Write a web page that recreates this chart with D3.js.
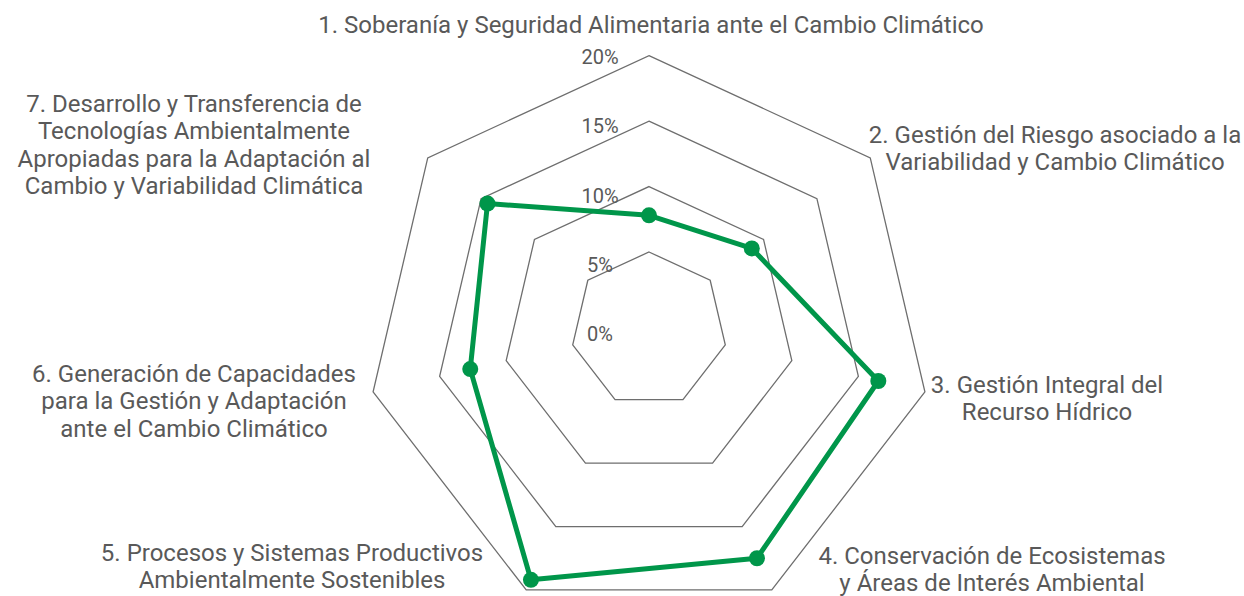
<!DOCTYPE html>
<html>
<head>
<meta charset="utf-8">
<script src="https://cdn.jsdelivr.net/npm/d3@7"></script>
<style>
  html, body { margin: 0; padding: 0; background: #ffffff; }
  svg { display: block; }
  text { font-family: Roboto, "Noto Sans", sans-serif; fill: #595959; }
</style>
</head>
<body>
<svg id="chart" width="1244" height="596"></svg>
<script>
// Axis names (one entry per spoke, split into display lines)
const categories = [
  ["1. Soberanía y Seguridad Alimentaria ante el Cambio Climático"],
  ["2. Gestión del Riesgo asociado a la", "Variabilidad y Cambio Climático"],
  ["3. Gestión Integral del", "Recurso Hídrico"],
  ["4. Conservación de Ecosistemas", "y Áreas de Interés Ambiental"],
  ["5. Procesos y Sistemas Productivos", "Ambientalmente Sostenibles"],
  ["6. Generación de Capacidades", "para la Gestión y Adaptación", "ante el Cambio Climático"],
  ["7. Desarrollo y Transferencia de", "Tecnologías Ambientalmente", "Apropiadas para la Adaptación al", "Cambio y Variabilidad Climática"]
];

// Share of each line of action (%)
const values = [7.8, 8.9, 16.5, 17.5, 19.2, 12.7, 14.4];

// Radial ticks (%)
const gridTicks = [5, 10, 15, 20];
const tickLabels = [0, 5, 10, 15, 20];

// ---- layout ----
const cx = 649;
const n = categories.length;
const angle = i => i * 2 * Math.PI / n;

const r = d3.scaleLinear().domain([0, 20]).range([10, 283]);
// vertical placement of radial offsets (offset -> page y)
const y = d3.scaleLinear().domain([-283, 0, 255]).range([55.7, 327, 590]);
const tickY = d3.scaleLinear().domain([0, 20]).range([334, 57]);

const point = (v, i) => {
  const rr = r(v), a = angle(i);
  return [cx + rr * Math.sin(a), y(-rr * Math.cos(a))];
};

const svg = d3.select("#chart");
const closed = d3.line().curve(d3.curveLinearClosed);

// grid rings
svg.append("g").selectAll("path")
  .data(gridTicks)
  .join("path")
  .attr("d", t => closed(d3.range(n).map(i => point(t, i))))
  .attr("fill", "none")
  .attr("stroke", "#6e6e6e")
  .attr("stroke-width", 1.3);

// tick labels
svg.append("g").selectAll("text")
  .data(tickLabels)
  .join("text")
  .attr("x", 600)
  .attr("y", t => tickY(t))
  .attr("dy", "0.35em")
  .attr("text-anchor", "middle")
  .attr("font-size", 20)
  .text(t => t + "%");

// series
svg.append("path")
  .attr("d", closed(values.map((v, i) => point(v, i))))
  .attr("fill", "none")
  .attr("stroke", "#00964a")
  .attr("stroke-width", 5)
  .attr("stroke-linejoin", "round");

svg.append("g").selectAll("circle")
  .data(values)
  .join("circle")
  .attr("cx", (v, i) => point(v, i)[0])
  .attr("cy", (v, i) => point(v, i)[1])
  .attr("r", 8)
  .attr("fill", "#00964a");

// category labels: anchor x and first baseline of each block
const labelAnchors = [
  [651, 33], [1055, 143], [1047, 393], [992, 564],
  [292, 561], [194, 382], [194, 112]
];
const lineHeight = 27.3;

svg.append("g").selectAll("text")
  .data(categories)
  .join("text")
  .attr("font-size", 24)
  .attr("text-anchor", "middle")
  .each(function (lines, i) {
    const [ax, ay] = labelAnchors[i];
    d3.select(this).selectAll("tspan")
      .data(lines)
      .join("tspan")
      .attr("x", ax)
      .attr("y", (d, k) => ay + k * lineHeight)
      .text(d => d);
  });
</script>
</body>
</html>
